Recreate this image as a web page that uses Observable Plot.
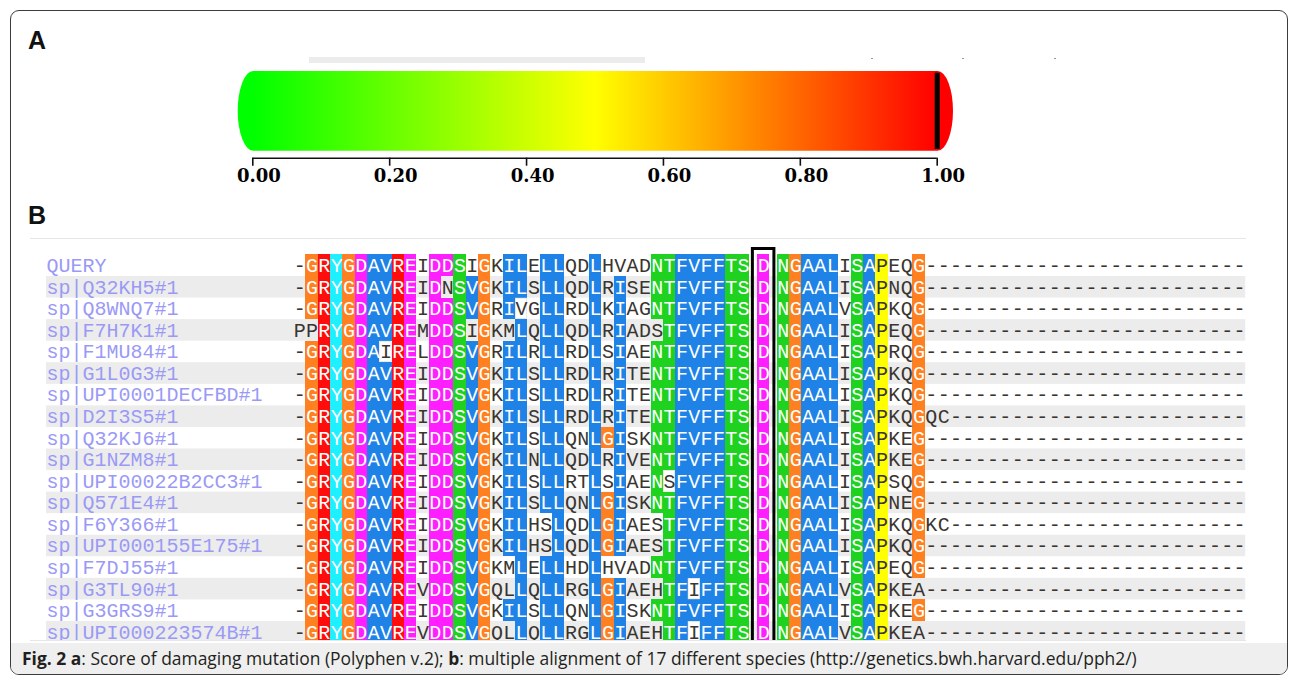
<!DOCTYPE html>
<html>
<head>
<meta charset="utf-8">
<script src="https://cdn.jsdelivr.net/npm/d3@7"></script>
<script src="https://cdn.jsdelivr.net/npm/@observablehq/plot@0.6"></script>
<style>
  html, body { margin: 0; padding: 0; background: #fff; }
  body { width: 1296px; height: 685px; position: relative; overflow: hidden; font-family: "Liberation Sans", Arial, sans-serif; }
  .abs { position: absolute; }
  #card { left: 10px; top: 10px; width: 1278px; height: 665px; border: 1px solid #3c3c3c; border-radius: 9px; box-sizing: border-box; }
  #cap { left: 11px; top: 643px; width: 1276px; height: 31px; background: #efefef; border-radius: 0 0 8px 8px; }
  #capText { left: 22px; top: 643px; height: 31px; line-height: 31px; white-space: nowrap; font-family: "Open Sans", sans-serif; font-size: 15px; color: #231f20; }
  .panelLabel { font-family: "Liberation Sans", Arial, sans-serif; font-weight: bold; font-size: 25px; line-height: 25px; color: #111; }
  .sep { height: 1px; background: #e6e6e6; }
  #plotA, #plotB { left: 0; width: 1296px; overflow: hidden; }
  #plotA { top: 40px; height: 155px; }
  #plotB { top: 245px; height: 395px; }
</style>
</head>
<body>
<div id="card" class="abs"></div>
<div id="cap" class="abs"></div>
<div class="abs panelLabel" style="left:28px; top:28px;">A</div>
<div class="abs panelLabel" style="left:28px; top:203px;">B</div>
<div class="abs sep" style="left:30px; top:238px; width:1216px;"></div>
<div class="abs sep" style="left:30px; top:640px; width:1216px;"></div>
<div class="abs" style="left:309px; top:57px; width:336px; height:6px; background:#ececec;"></div>
<div class="abs" style="left:871px; top:58px; width:2px; height:1px; background:#9a9a9a;"></div>
<div class="abs" style="left:962px; top:58px; width:2px; height:1px; background:#9a9a9a;"></div>
<div class="abs" style="left:1054px; top:58px; width:2px; height:1px; background:#9a9a9a;"></div>
<div id="plotA" class="abs"></div>
<div id="plotB" class="abs"></div>
<div id="capText" class="abs"><b>Fig. 2</b> <b>a</b>: Score of damaging mutation (Polyphen v.2); <b>b</b>: multiple alignment of 17 different species (http://genetics.bwh.harvard.edu/pph2/)</div>

<script>
// ---------------- DATA ----------------
// Panel A: PolyPhen-2 score of damaging mutation
const score = 1.0;
const scoreRange = [0, 1];
const scoreTicks = [0, 0.2, 0.4, 0.6, 0.8, 1.0];
const scoreColors = ["#00ff00", "#ffff00", "#ff0000"];

// Panel B: multiple alignment
const names = [
  "QUERY", "sp|Q32KH5#1", "sp|Q8WNQ7#1", "sp|F7H7K1#1", "sp|F1MU84#1", "sp|G1L0G3#1",
  "sp|UPI0001DECFBD#1", "sp|D2I3S5#1", "sp|Q32KJ6#1", "sp|G1NZM8#1", "sp|UPI00022B2CC3#1",
  "sp|Q571E4#1", "sp|F6Y366#1", "sp|UPI000155E175#1", "sp|F7DJ55#1", "sp|G3TL90#1",
  "sp|G3GRS9#1", "sp|UPI000223574B#1"
];
// residues before the highlighted site
const seqLeft = [
  "-GRYGDAVREIDDSIGKILELLQDLHVADNTFVFFTS",
  "-GRYGDAVREIDNSVGKILSLLQDLRISENTFVFFTS",
  "-GRYGDAVREIDDSVGRIVGLLRDLKIAGNTFVFFTS",
  "PPRYGDAVREMDDSIGKMLQLLQDLRIADSTFVFFTS",
  "-GRYGDAIRELDDSVGRILRLLRDLSIAENTFVFFTS",
  "-GRYGDAVREIDDSVGKILSLLRDLRITENTFVFFTS",
  "-GRYGDAVREIDDSVGKILSLLRDLRITENTFVFFTS",
  "-GRYGDAVREIDDSVGKILSLLRDLRITENTFVFFTS",
  "-GRYGDAVREIDDSVGKILSLLQNLGISKNTFVFFTS",
  "-GRYGDAVREIDDSVGKILNLLQDLRIVENTFVFFTS",
  "-GRYGDAVREIDDSVGKILSLLRTLSIAENSFVFFTS",
  "-GRYGDAVREIDDSVGKILSLLQNLGISKNTFVFFTS",
  "-GRYGDAVREIDDSVGKILHSLQDLGIAESTFVFFTS",
  "-GRYGDAVREIDDSVGKILHSLQDLGIAESTFVFFTS",
  "-GRYGDAVREIDDSVGKMLELLHDLHVADNTFVFFTS",
  "-GRYGDAVREVDDSVGQLLQLLRGLGIAEHTFIFFTS",
  "-GRYGDAVREIDDSVGKILSLLQNLGISKNTFVFFTS",
  "-GRYGDAVREVDDSVGQLLQLLRGLGIAEHTFIFFTS"
];
// the highlighted (mutated) site
const seqSite = ["D","D","D","D","D","D","D","D","D","D","D","D","D","D","D","D","D","D"];
// residues after the highlighted site
const seqRight = [
  "NGAALISAPEQG--------------------------",
  "NGAALISAPNQG--------------------------",
  "NGAALVSAPKQG--------------------------",
  "NGAALISAPEQG--------------------------",
  "NGAALISAPRQG--------------------------",
  "NGAALISAPKQG--------------------------",
  "NGAALISAPKQG--------------------------",
  "NGAALISAPKQGQC------------------------",
  "NGAALISAPKEG--------------------------",
  "NGAALISAPKEG--------------------------",
  "NGAALISAPSQG--------------------------",
  "NGAALISAPNEG--------------------------",
  "NGAALISAPKQGKC------------------------",
  "NGAALISAPKQG--------------------------",
  "NGAALISAPEQG--------------------------",
  "NGAALVSAPKEA--------------------------",
  "NGAALISAPKEG--------------------------",
  "NGAALVSAPKEA--------------------------"
];
// conserved residue that is coloured in each column ("." = column not coloured)
const colourRefLeft  = ".GRYGDAVRE.DDSVG.IL.LL..LGI..NTFVFFTS";
const colourRefSite  = "D";
const colourRefRight = "NGAAL.SAP..G..........................";
// residues shown in a white box inside a coloured column
const whiteBoxes = [
  ["sp|F1MU84#1", "left", 7],
  ["sp|Q8WNQ7#1", "left", 18],
  ["sp|UPI00022B2CC3#1", "left", 30],
  ["sp|G3TL90#1", "left", 32],
  ["sp|UPI000223574B#1", "left", 32]
];
// residue colour groups
const groupResidues = ["G", "RK", "Y", "DE", "AVILMFW", "STNQ", "P"];
const groupNames = ["grpG", "grpRK", "grpY", "grpDE", "grpHydrophobic", "grpPolar", "grpP"];
const groupColors = ["#ff8020", "#ff0c0c", "#1ff0ff", "#ff1eff", "#1e82e6", "#1fd21f", "#ffff00"];

// ---------------- LAYOUT (styles only) ----------------
const CH = 12.33;           // px per alignment column
const X0 = 293;             // px of first alignment column
const SITE_POS = 37.63;     // column position of highlighted site
const RIGHT_POS = 39.23;    // column position where the right block starts
const TOTAL = RIGHT_POS + seqRight[0].length;
const BAND0 = 9.45, BAND = 21.56;
const MONO = "Liberation Mono, DejaVu Sans Mono, monospace";

// ---------------- BUILD CELLS ----------------
const classOf = {};
groupResidues.forEach((g, i) => { for (const c of g) classOf[c] = groupNames[i]; });
const boxed = new Set(whiteBoxes.map(([n, b, j]) => `${n}|${b}|${j}`));
const cells = [];
names.forEach((name, r) => {
  const blocks = [
    ["left", seqLeft[r], colourRefLeft, 0],
    ["site", seqSite[r], colourRefSite, SITE_POS],
    ["right", seqRight[r], colourRefRight, RIGHT_POS]
  ];
  for (const [b, s, ref, off] of blocks) {
    for (let j = 0; j < s.length; j++) {
      const ch = s[j];
      let cls = null;
      if (boxed.has(`${name}|${b}|${j}`)) cls = "grpBoxed";
      else if (ref[j] !== "." && ch === ref[j]) cls = classOf[ch] || null;
      cells.push({name, ch, pos: off + j, cls});
    }
  }
});
const isDarkText = d => !d.cls || d.cls === "grpBoxed" || d.cls === "grpP";

// ---------------- PANEL A ----------------
const A_H = 155, A_TOP = 31, A_BOT = 110.7;
const panelA = Plot.plot({
  width: 1296, height: A_H,
  marginLeft: 252.3, marginRight: 1296 - 936.7, marginTop: A_TOP, marginBottom: A_H - A_BOT,
  x: {domain: scoreRange, axis: null},
  y: {domain: [0, 1], axis: null},
  style: {fontFamily: "DejaVu Serif, serif", fontSize: "18px", fontWeight: "bold", color: "#000", background: "transparent"},
  marks: [
    Plot.rect([scoreRange], {x1: d => d[0], x2: d => d[1], y1: 0, y2: 1, fill: "url(#scoreGrad)", rx: 15.5, ry: 40, insetLeft: -14.6, insetRight: -16.3}),
    Plot.ruleX([score], {x: d => d, stroke: "#000", strokeWidth: 5, insetTop: 1.7, insetBottom: 1.7}),
    Plot.ruleY([0], {x1: scoreRange[0], x2: scoreRange[1], dy: 7, stroke: "#111", strokeWidth: 1.6}),
    Plot.axisX(scoreTicks, {tickSize: 8, dy: 7, tickFormat: () => "", stroke: "#111", strokeWidth: 1.6}),
    Plot.axisX(scoreTicks, {tickSize: 0, dy: 15, dx: 6, tickPadding: 3.5, tickFormat: d3.format(".2f"), fill: "#000"})
  ]
});
const xs = panelA.scale("x");
const defs = document.createElementNS("http://www.w3.org/2000/svg", "defs");
defs.innerHTML = `<linearGradient id="scoreGrad" gradientUnits="userSpaceOnUse" x1="${xs.apply(0)}" x2="${xs.apply(1)}" y1="0" y2="0">` +
  scoreColors.map((c, i) => `<stop offset="${i / (scoreColors.length - 1)}" stop-color="${c}"/>`).join("") +
  `</linearGradient>`;
panelA.insertBefore(defs, panelA.firstChild);
document.getElementById("plotA").appendChild(panelA);

// ---------------- PANEL B ----------------
const panelB = Plot.plot({
  width: 1296, height: 395,
  marginLeft: 46, marginRight: 1296 - (X0 + TOTAL * CH), marginTop: 3.5, marginBottom: 0,
  x: {domain: [0, TOTAL], range: [X0, X0 + TOTAL * CH], axis: null},
  y: {type: "band", domain: names, range: [BAND0, BAND0 + names.length * BAND], padding: 0, round: false, axis: null},
  color: {type: "ordinal", domain: [...groupNames, "grpBoxed"], range: [...groupColors, "#ffffff"]},
  style: {fontFamily: MONO, fontSize: "20px", background: "transparent"},
  marks: [
    Plot.cell(names.filter((d, i) => i % 2 === 1), {y: d => d, fill: "#ececec"}),
    Plot.barX(cells.filter(d => d.cls && d.cls !== "grpBoxed"), {x1: "pos", x2: d => d.pos + 1, y: "name", fill: "cls", shapeRendering: "crispEdges"}),
    Plot.barX(cells.filter(d => d.cls === "grpBoxed"), {x1: "pos", x2: d => d.pos + 1, y: "name", fill: "cls", inset: 0.5, stroke: "#d8d8d8", strokeWidth: 0.6}),
    Plot.text(cells.filter(d => !isDarkText(d)), {x: d => d.pos + 0.5, y: "name", text: "ch", fill: "#ffffff", fontFamily: MONO, fontSize: 20}),
    Plot.text(cells.filter(isDarkText), {x: d => d.pos + 0.5, y: "name", text: "ch", fill: "#3a3530", fontFamily: MONO, fontSize: 20}),
    Plot.text(names, {y: d => d, text: d => d, frameAnchor: "left", textAnchor: "start", fill: "#9a9af6", fontFamily: MONO, fontSize: 20}),
    Plot.rect([SITE_POS], {x1: d => d, x2: d => d + 1, fill: "none", stroke: "#000", strokeWidth: 3, insetLeft: -4.6, insetRight: -4.6, insetBottom: -30})
  ]
});
document.getElementById("plotB").appendChild(panelB);

// ---------------- caption fit ----------------
const cap = document.getElementById("capText");
const w = cap.getBoundingClientRect().width;
cap.style.fontSize = (15 * 1116 / w) + "px";
</script>
</body>
</html>
